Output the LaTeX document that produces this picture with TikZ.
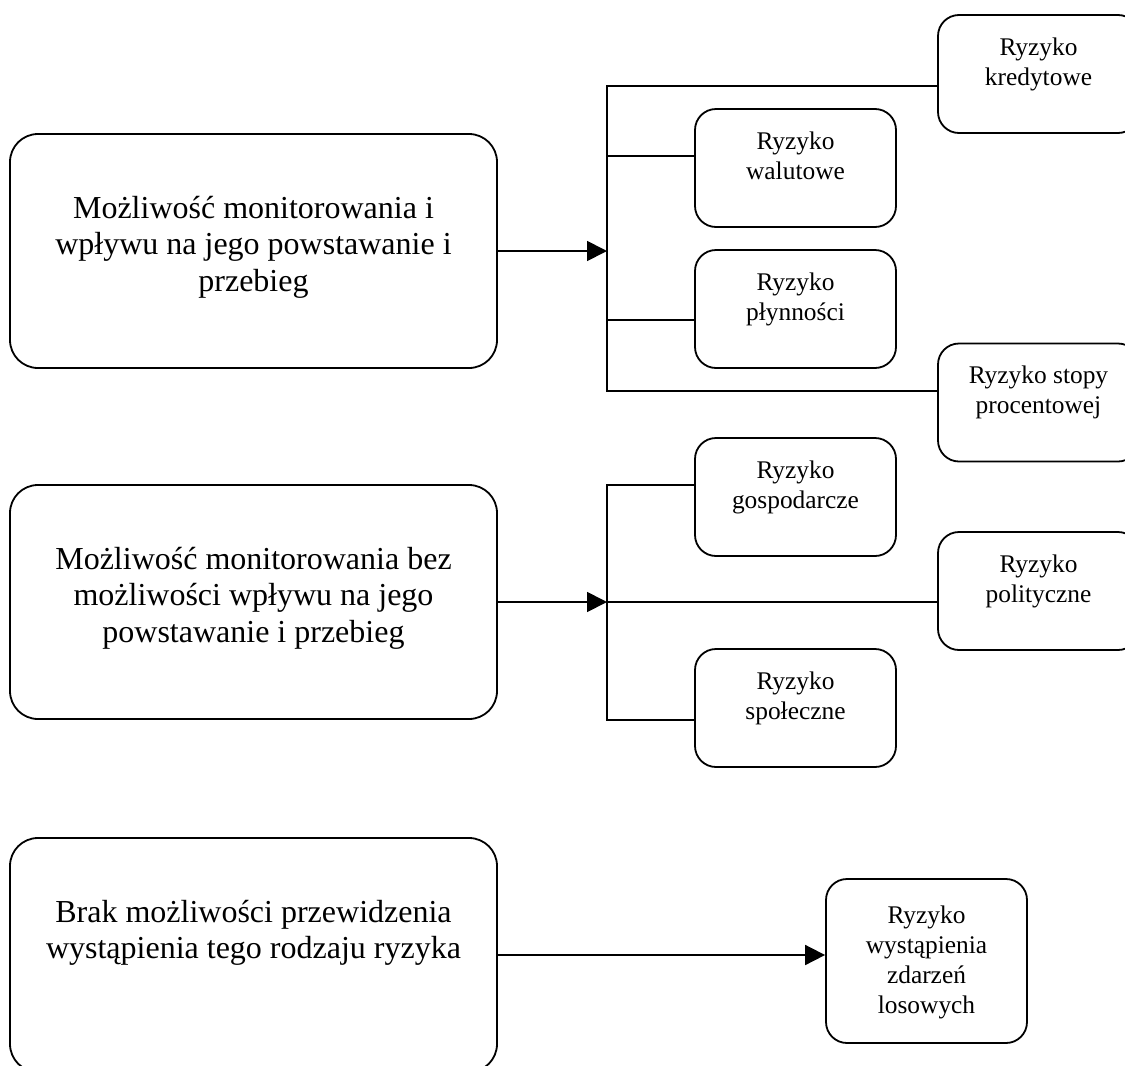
\documentclass[tikz,border=0pt]{standalone}
\usepackage{fontspec}
\setmainfont{Liberation Serif}
\usetikzlibrary{arrows.meta, positioning}

\begin{document}
\begin{tikzpicture}[
    x = 0.5pt, y = -0.5pt,
    line width = 0.9pt,
    node distance = 57.6pt,
    bigbox/.style = {rectangle, draw, rounded corners=14pt, minimum width=243.5pt, minimum height=117pt, inner sep=0pt},
    smallbox/.style = {rectangle, draw, rounded corners=10.5pt, minimum width=100.5pt, minimum height=59pt, inner sep=0pt},
    bigtext/.style = {anchor=north, align=center, inner sep=0pt, font=\fontsize{16}{18.3}\selectfont},
    smalltext/.style = {anchor=north, align=center, inner sep=0pt, font=\fontsize{12.7}{15}\selectfont},
    arrow/.style = {-{Triangle[length=10pt, width=10pt]}}
]
\useasboundingbox (0,0) rectangle (1125,1066);
\clip (0,0) rectangle (1125,1066);

% Define nodes
\node[bigbox] (m1) at (253.5,251) {};
\node[bigbox, below=of m1] (m2) {};
\node[bigbox, below=58.6pt of m2] (m3) {};
\node[bigtext, below=31pt of m1.north] (m1txt) {Możliwość monitorowania i\\wpływu na jego powstawanie i\\przebieg};
\node[bigtext, below=31pt of m2.north] (m2txt) {Możliwość monitorowania bez\\możliwości wpływu na jego\\powstawanie i przebieg};
\node[bigtext, below=31pt of m3.north] (m3txt) {Brak możliwości przewidzenia\\wystąpienia tego rodzaju ryzyka};

\node[smallbox] (kred) at (1038.5,74) {};
\node[smallbox] (wal) at (795.5,168) {};
\node[smallbox] (plyn) at (795.5,309) {};
\node[smallbox] (stopy) at (1038.5,402.5) {};
\node[smallbox] (gosp) at (795.5,497) {};
\node[smallbox] (pol) at (1038.5,591) {};
\node[smallbox] (spol) at (795.5,708) {};
\node[smallbox, minimum height=82pt] (los) at (926.5,961) {};

\node[smalltext, below=11.3pt of kred.north] (kredtxt) {Ryzyko\\kredytowe};
\node[smalltext, below=11.3pt of wal.north] (waltxt) {Ryzyko\\walutowe};
\node[smalltext, below=11.3pt of plyn.north] (plyntxt) {Ryzyko\\płynności};
\node[smalltext, below=11.3pt of stopy.north] (stopytxt) {Ryzyko stopy\\procentowej};
\node[smalltext, below=11.3pt of gosp.north] (gosptxt) {Ryzyko\\gospodarcze};
\node[smalltext, below=11.3pt of pol.north] (poltxt) {Ryzyko\\polityczne};
\node[smalltext, below=11.3pt of spol.north] (spoltxt) {Ryzyko\\społeczne};
\node[smalltext, below=13.3pt of los.north] (lostxt) {Ryzyko\\wystąpienia\\zdarzeń\\losowych};

\coordinate (bus) at (607,0);

% Draw arrows
\draw[arrow] (m1.east) -- (m1.east -| bus);
\draw ([yshift=-6pt]kred.west) -| ([yshift=5.75pt]stopy.west -| bus) -- ([yshift=5.75pt]stopy.west);
\draw ([yshift=6pt]wal.west) -- ([yshift=6pt]wal.west -| bus);
\draw ([yshift=-5.5pt]plyn.west) -- ([yshift=-5.5pt]plyn.west -| bus);

\draw[arrow] (m2.east) -- (m2.east -| bus);
\draw ([yshift=6pt]gosp.west) -| ([yshift=-6pt]spol.west -| bus) -- ([yshift=-6pt]spol.west);
\draw ([yshift=-5.5pt]pol.west) -- ([yshift=-5.5pt]pol.west -| bus);

\draw[arrow] (m3.east) -- (m3.east -| los.west);

\end{tikzpicture}
\end{document}
